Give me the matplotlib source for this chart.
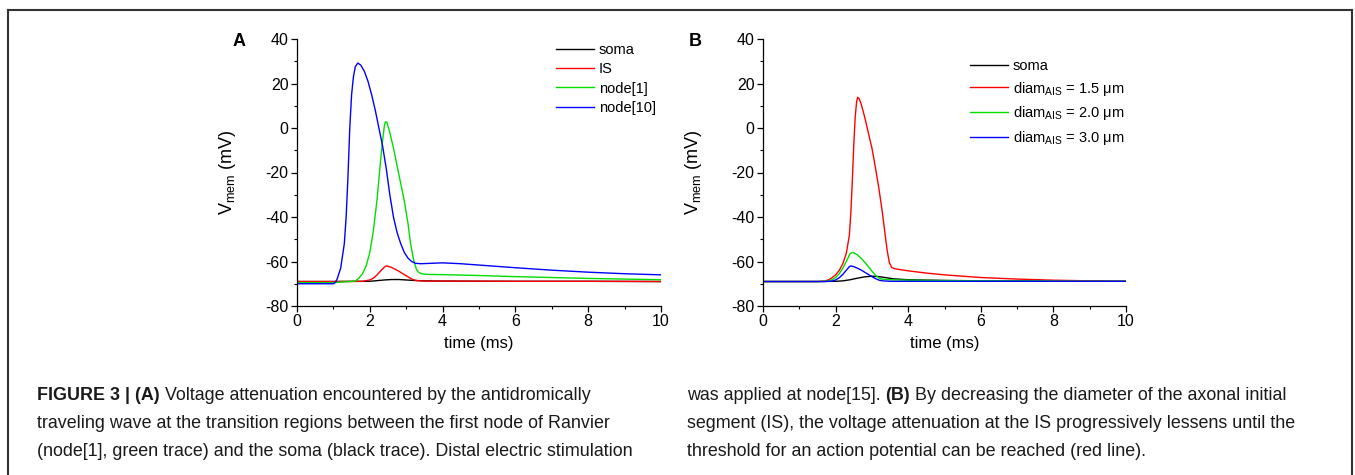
"""Figure 3: antidromic voltage attenuation at the AIS (two panels + caption)."""

import matplotlib

matplotlib.use("Agg")
import matplotlib.pyplot as plt
from matplotlib.lines import Line2D
from matplotlib.ticker import MultipleLocator

# ---- panel A: traces (time in ms, Vmem in mV) ----
soma_a_t = [0, 1.0, 2.0, 2.2, 2.4, 2.6, 2.8, 3.0, 3.2, 3.5, 4.0, 6.0, 8.0, 10.0]
soma_a_v = [-69.0, -69.0, -68.9, -68.6, -68.3, -68.1, -68.1, -68.3, -68.5, -68.7, -68.8, -68.9, -68.9, -69.0]

is_a_t = [0, 1.0, 1.8, 2.0, 2.1, 2.2, 2.3, 2.4, 2.45, 2.5, 2.6, 2.7, 2.8, 2.9,
          3.0, 3.1, 3.2, 3.3, 3.5, 4.0, 6.0, 8.0, 10.0]
is_a_v = [-69.0, -69.0, -68.9, -68.3, -67.5, -66.0, -64.2, -62.5, -62.0, -62.1, -62.7, -63.5, -64.4, -65.4,
          -66.4, -67.4, -68.2, -68.6, -68.8, -68.8, -68.9, -68.9, -69.0]

node1_t = [0, 1.0, 1.6, 1.7, 1.8, 1.9, 2.0, 2.1, 2.2, 2.3, 2.35, 2.4, 2.43, 2.47, 2.55, 2.65,
           2.75, 2.85, 2.95, 3.05, 3.12, 3.2, 3.28, 3.35, 3.45, 3.6, 4.0, 5.0, 6.0, 7.0, 8.0, 9.0, 10.0]
node1_v = [-69.5, -69.5, -68.8, -67.5, -65.5, -62.0, -56.0, -46.0, -32.0, -14.0, -6.0, 1.0, 2.8, 2.5, -2.0, -9.0,
           -17.0, -25.0, -33.0, -43.0, -52.0, -59.0, -63.5, -65.0, -65.6, -65.8, -65.9, -66.3, -66.8, -67.2, -67.6, -67.9, -68.2]

node10_t = [0, 1.0, 1.05, 1.1, 1.2, 1.3, 1.35, 1.4, 1.45, 1.5, 1.55, 1.6, 1.67, 1.75, 1.85, 1.95,
            2.05, 2.15, 2.25, 2.35, 2.45, 2.55, 2.65, 2.75, 2.85, 2.95, 3.05, 3.15, 3.25, 3.4,
            3.7, 4.0, 4.5, 5.0, 6.0, 7.0, 8.0, 9.0, 10.0]
node10_v = [-70.0, -70.0, -69.5, -68.0, -63.0, -52.0, -40.0, -22.0, 0.0, 15.0, 23.0, 27.5, 29.2, 28.3, 25.5, 21.0,
            15.0, 8.0, 0.0, -8.0, -18.0, -30.0, -40.0, -47.0, -52.0, -56.0, -58.5, -60.0, -60.8, -61.0,
            -60.8, -60.6, -61.0, -61.6, -62.8, -63.9, -64.8, -65.5, -66.0]

# ---- panel B ----
soma_b_t = [0, 1.5, 2.0, 2.2, 2.4, 2.6, 2.8, 3.0, 3.2, 3.4, 3.6, 4.0, 5.0, 6.0, 8.0, 10.0]
soma_b_v = [-69.0, -69.0, -68.9, -68.7, -68.2, -67.5, -66.9, -66.6, -66.8, -67.3, -67.8, -68.2, -68.5, -68.7, -68.8, -68.9]

d15_t = [0, 1.5, 1.7, 1.8, 1.9, 2.0, 2.1, 2.2, 2.3, 2.38, 2.42, 2.46, 2.5, 2.54, 2.58, 2.61, 2.65, 2.7,
         2.8, 2.9, 3.0, 3.1, 3.2, 3.28, 3.35, 3.42, 3.48, 3.55, 3.65, 3.8, 4.0, 4.5, 5.0, 6.0, 7.0, 8.0, 9.0, 10.0]
d15_v = [-69.0, -69.0, -68.8, -68.3, -67.3, -66.0, -64.0, -61.0, -56.0, -48.0, -38.0, -24.0, -8.0, 5.0, 12.0, 13.8, 13.2, 11.0,
         5.0, -2.0, -9.0, -18.0, -28.0, -37.0, -46.0, -55.0, -60.5, -62.8, -63.3, -63.7, -64.2, -65.2, -66.0, -67.2, -67.9, -68.4, -68.7, -68.9]

d20_t = [0, 1.6, 1.8, 1.9, 2.0, 2.1, 2.2, 2.3, 2.4, 2.45, 2.5, 2.6, 2.7, 2.8, 2.9, 3.0, 3.1, 3.2, 3.3, 3.5,
         4.0, 5.0, 6.0, 8.0, 10.0]
d20_v = [-69.0, -69.0, -68.8, -68.2, -67.2, -65.5, -63.0, -59.8, -56.5, -56.0, -56.1, -57.0, -58.5, -60.3, -62.3, -64.3, -66.2, -67.5, -68.0, -68.2,
         -68.4, -68.6, -68.7, -68.8, -68.9]

d30_t = [0, 1.7, 1.9, 2.0, 2.1, 2.2, 2.3, 2.38, 2.42, 2.5, 2.6, 2.7, 2.8, 2.9, 3.0, 3.1, 3.2, 3.3, 3.5, 4.0, 6.0, 10.0]
d30_v = [-69.0, -69.0, -68.8, -68.3, -67.3, -65.8, -63.8, -62.3, -62.0, -62.3, -63.0, -63.8, -64.8, -65.8, -66.8, -67.7, -68.4, -68.7, -68.9, -68.9, -68.9, -68.9]

labels_a = ["soma", "IS", "node[1]", "node[10]"]
labels_b = ["soma", "diam$_{AIS}$ = 1.5 \u03bcm", "diam$_{AIS}$ = 2.0 \u03bcm", "diam$_{AIS}$ = 3.0 \u03bcm"]

caption_left = [
    [("FIGURE 3 | (A)", "bold"), (" Voltage attenuation encountered by the antidromically", "normal")],
    [("traveling wave at the transition regions between the first node of Ranvier", "normal")],
    [("(node[1], green trace) and the soma (black trace). Distal electric stimulation", "normal")],
]
caption_right = [
    [("was applied at node[15]. ", "normal"), ("(B)", "bold"), (" By decreasing the diameter of the axonal initial", "normal")],
    [("segment (IS), the voltage attenuation at the IS progressively lessens until the", "normal")],
    [("threshold for an action potential can be reached (red line).", "normal")],
]

COLORS = ["black", "#ff0000", "#00dd00", "#0000ff"]
W, H = 1355, 475

plt.rcParams.update({
    "font.family": ["Liberation Sans", "DejaVu Sans"],
    "mathtext.default": "regular",
    "axes.unicode_minus": False,
    "font.size": 10,
})

fig = plt.figure(figsize=(W / 100, H / 100), dpi=100)


def px_axes(x0, y0, x1, y1):
    return fig.add_axes([x0 / W, 1 - y1 / H, (x1 - x0) / W, (y1 - y0) / H])


def style_axes(ax):
    ax.set_xlim(0, 10)
    ax.set_ylim(-80, 40)
    ax.xaxis.set_major_locator(MultipleLocator(2))
    ax.xaxis.set_minor_locator(MultipleLocator(1))
    ax.yaxis.set_major_locator(MultipleLocator(20))
    ax.yaxis.set_minor_locator(MultipleLocator(10))
    for s in ["top", "right"]:
        ax.spines[s].set_visible(False)
    for s in ["left", "bottom"]:
        ax.spines[s].set_linewidth(0.9)
    ax.tick_params(which="major", direction="out", length=4, width=0.9, labelsize=11.5, pad=2)
    ax.tick_params(which="minor", direction="out", length=2.5, width=0.8)
    ax.set_xlabel("time (ms)", fontsize=12, labelpad=5)
    ax.set_ylabel("V$_{mem}$ (mV)", fontsize=13)
    ax.yaxis.set_label_coords(-0.163, 0.5)


ax_a = px_axes(297, 39, 661, 306)
style_axes(ax_a)
for (t, v), c, lab in zip([(soma_a_t, soma_a_v), (is_a_t, is_a_v), (node1_t, node1_v), (node10_t, node10_v)],
                          COLORS, labels_a):
    ax_a.plot(t, v, color=c, lw=1.0, label=lab)
ax_a.legend(loc="upper left", bbox_to_anchor=(556 / W, 1 - 43 / H), bbox_transform=fig.transFigure,
            frameon=False, fontsize=10.5, handlelength=2.6, handletextpad=0.35, labelspacing=0.36,
            borderpad=0, borderaxespad=0)

ax_b = px_axes(763, 39, 1126, 306)
style_axes(ax_b)
for (t, v), c, lab in zip([(soma_b_t, soma_b_v), (d15_t, d15_v), (d20_t, d20_v), (d30_t, d30_v)],
                          COLORS, labels_b):
    ax_b.plot(t, v, color=c, lw=1.0, label=lab)
ax_b.legend(loc="upper left", bbox_to_anchor=(970 / W, 1 - 59 / H), bbox_transform=fig.transFigure,
            frameon=False, fontsize=10.5, handlelength=2.6, handletextpad=0.35, labelspacing=0.45,
            borderpad=0, borderaxespad=0)

fig.text(239 / W, 1 - 41 / H, "A", fontsize=13, fontweight="bold", ha="center", va="center")
fig.text(695 / W, 1 - 41 / H, "B", fontsize=13, fontweight="bold", ha="center", va="center")

# caption, drawn piece by piece so bold and regular runs can share a line
renderer = fig.canvas.get_renderer()
cap_font = ["Liberation Sans", "DejaVu Sans"]


def draw_lines(lines, x0, y0, step):
    for i, pieces in enumerate(lines):
        x = x0
        y = 1 - (y0 + i * step) / H
        for txt, weight in pieces:
            t = fig.text(x / W, y, txt, fontsize=12.9, fontweight=weight, family=cap_font,
                         ha="left", va="center", color="#1a1a1a")
            bb = t.get_window_extent(renderer)
            x += bb.width


draw_lines(caption_left, 37, 396, 28)
draw_lines(caption_right, 687, 396, 28)

# thin frame around the figure
frame = dict(color="#333333", lw=1.5, transform=fig.transFigure)
fig.add_artist(Line2D([8 / W, 8 / W], [1 - 10 / H, 0], **frame))
fig.add_artist(Line2D([8 / W, 1352 / W], [1 - 10 / H, 1 - 10 / H], **frame))
fig.add_artist(Line2D([1352 / W, 1352 / W], [1 - 10 / H, 0], **frame))

fig.savefig("out.png", dpi=100)
